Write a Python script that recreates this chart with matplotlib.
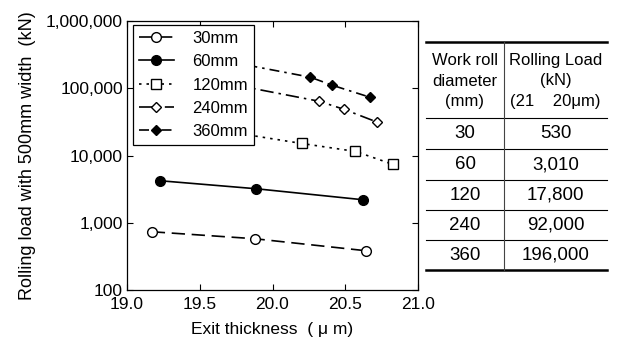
import matplotlib
matplotlib.use("Agg")
import matplotlib.pyplot as plt
from matplotlib.lines import Line2D
from matplotlib.ticker import FuncFormatter, FixedLocator, NullLocator

plt.rcParams["font.family"] = ["Liberation Sans", "DejaVu Sans"]
plt.rcParams["font.size"] = 12.5

# exit thickness (um) and rolling load (kN) per work roll diameter
x30 = [19.17, 19.88, 20.64]
y30 = [735, 578, 384]
x60 = [19.23, 19.89, 20.62]
y60 = [4210, 3200, 2200]
x120 = [19.22, 20.20, 20.57, 20.83]
y120 = [33000, 15100, 11500, 7350]
x240 = [19.22, 20.32, 20.49, 20.72]
y240 = [185000, 64100, 48700, 31300]
x360 = [19.22, 20.26, 20.41, 20.67]
y360 = [393000, 146000, 111000, 73500]

table_diam = ["30", "60", "120", "240", "360"]
table_load = ["530", "3,010", "17,800", "92,000", "196,000"]

W, H = 621, 345
fig = plt.figure(figsize=(W / 100, H / 100), dpi=100)
ax = fig.add_axes([127 / W, (H - 290) / H, (418 - 127) / W, (290 - 21) / H])

ax.plot(x30, y30, color="black", lw=1.2, ls=(0, (8, 4)), marker="o", ms=7,
        mfc="white", mec="black", label="30mm")
ax.plot(x60, y60, color="black", lw=1.2, ls="-", marker="o", ms=7,
        mfc="black", mec="black", label="60mm")
ax.plot(x120, y120, color="black", lw=1.2, ls=(0, (1.5, 3)), marker="s", ms=7.5,
        mfc="white", mec="black", label="120mm")
ax.plot(x240, y240, color="black", lw=1.2, ls=(0, (8, 3, 1.5, 3)), marker="D", ms=5.5,
        mfc="white", mec="black", label="240mm")
ax.plot(x360, y360, color="black", lw=1.2, ls=(0, (6, 3, 1.5, 3)), marker="D", ms=5.5,
        mfc="black", mec="black", label="360mm")

ax.set_yscale("log")
ax.set_xlim(19.0, 21.0)
ax.set_ylim(100, 1e6)
ax.set_xticks([19.0, 19.5, 20.0, 20.5, 21.0])
ax.xaxis.set_major_formatter(FuncFormatter(lambda v, p: f"{v:.1f}"))
ax.yaxis.set_major_locator(FixedLocator([100, 1000, 10000, 100000, 1000000]))
ax.yaxis.set_minor_locator(NullLocator())
ax.yaxis.set_major_formatter(FuncFormatter(lambda v, p: f"{int(round(v)):,}"))
ax.tick_params(direction="in", length=4, top=True, right=True, labelsize=12.5)
ax.tick_params(axis="x", pad=5)
ax.tick_params(axis="y", pad=3)
for s in ax.spines.values():
    s.set_linewidth(0.9)

ax.set_xlabel("Exit thickness  ( \u03bc m)", fontsize=12.5, labelpad=7)
ax.set_ylabel("Rolling load with 500mm width  (kN)", fontsize=13, labelpad=7)

leg = ax.legend(loc="upper left", bbox_to_anchor=(0.021, 0.985), frameon=True,
                fancybox=False, edgecolor="black", framealpha=1, fontsize=12,
                handlelength=2.1, handletextpad=1.1, borderpad=0.35, labelspacing=0.5,
                borderaxespad=0)
leg.get_frame().set_linewidth(0.9)

# table on the right
def fx(px):
    return px / W

def fy(py):
    return (H - py) / H

tl, tm, tr = 426, 504, 607
rows_y = [118, 149, 180, 210, 240, 270]
fig.add_artist(Line2D([fx(tl), fx(tr)], [fy(42), fy(42)], color="black", lw=1.8))
fig.add_artist(Line2D([fx(tl), fx(tr)], [fy(270), fy(270)], color="black", lw=1.8))
for yy in rows_y[:-1]:
    fig.add_artist(Line2D([fx(tl), fx(tr)], [fy(yy), fy(yy)], color="black", lw=0.8))
fig.add_artist(Line2D([fx(tm), fx(tm)], [fy(42), fy(270)], color="#444444", lw=0.8))

c1 = (tl + tm) / 2
c2 = (tm + tr) / 2
fig.text(fx(c1), fy(81), "Work roll\ndiameter\n(mm)", ha="center", va="center",
         fontsize=12, linespacing=1.45)
fig.text(fx(c2), fy(81), "Rolling Load\n(kN)\n(21    20\u03bcm)", ha="center", va="center",
         fontsize=12, linespacing=1.45)
for i, (d, l) in enumerate(zip(table_diam, table_load)):
    yc = (rows_y[i] + rows_y[i + 1]) / 2
    fig.text(fx(c1), fy(yc), d, ha="center", va="center", fontsize=13.5)
    fig.text(fx(c2), fy(yc), l, ha="center", va="center", fontsize=13.5)

fig.savefig("out.png", dpi=100)
